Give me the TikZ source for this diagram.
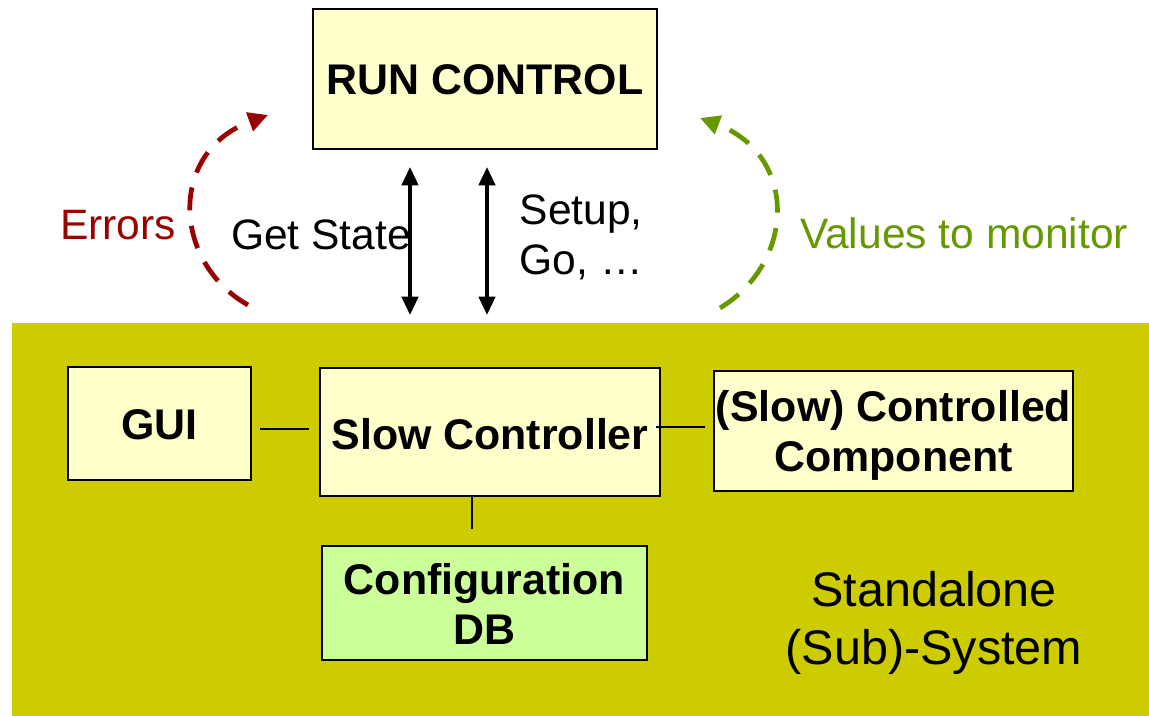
\documentclass[tikz,border=0pt]{standalone}
\usepackage{fontspec}
\setmainfont{Liberation Sans}
\usetikzlibrary{arrows.meta}
\definecolor{olivebg}{RGB}{204,204,0}
\definecolor{paleyellow}{RGB}{255,255,204}
\definecolor{palegreen}{RGB}{204,255,153}
\definecolor{errred}{RGB}{153,0,0}
\definecolor{mongreen}{RGB}{102,153,0}
% taller first line, so that the text sits a little lower in its box
\newcommand{\dropby}[1]{\rule{0pt}{\dimexpr\fontcharht\font`(+#1\relax}}
\tikzset{
  box/.style={draw=black, line width=0.6pt, fill=paleyellow, inner sep=0pt,
    align=center, font=\fontsize{12.2}{14.2}\selectfont\bfseries},
  label/.style={inner sep=0pt, font=\fontsize{12.1}{14.2}\selectfont},
  link/.style={draw=black, line width=0.45pt},
  cmd/.style={line width=1.05pt, {Triangle[length=5.2pt,width=4.6pt]}-{Triangle[length=5.2pt,width=4.6pt]}},
  loop/.style={line width=1.35pt, dash pattern=on 6.6pt off 4.4pt, -{Triangle[length=5.6pt,width=5.4pt]}}
}
\begin{document}
\begin{tikzpicture}[x=0.01cm,y=-0.01cm]
  \useasboundingbox (0,0) rectangle (1149,716);
  % standalone subsystem area
  \fill[olivebg] (12,323) rectangle (1149,716);

  % boxes
  \node[box, minimum width=3.44cm, minimum height=1.40cm] (run) at (485,79) {\dropby{0.6pt}RUN CONTROL};
  \node[box, minimum width=1.83cm, minimum height=1.13cm] (gui) at (159.5,423.5) {\dropby{1.1pt}GUI};
  \node[box, minimum width=3.40cm, minimum height=1.28cm] (sc) at (490,432) {\dropby{1.7pt}Slow Controller};
  \node[box, minimum width=3.59cm, minimum height=1.20cm] (cc) at (893.5,431) {\dropby{2.8pt}(Slow) Controlled\\Component};
  \node[box, fill=palegreen, minimum width=3.25cm, minimum height=1.14cm] (db) at (484.5,603) {\dropby{1.1pt}Configuration\\DB};

  % texts
  \node[label, text=errred] (err) at (118,225) {Errors};
  \node[label] (get) at (321,235) {Get State};
  \node[label, anchor=west, align=left] (setup) at (519,237) {Setup,\\Go, \ldots};
  \node[label, text=mongreen] (mon) at (964,233) {Values to monitor};
  \node[label, font=\fontsize{13.8}{16.4}\selectfont, align=center] (sub) at (934,623) {Standalone\\(Sub)-System};

  % command / state arrows between run control and the subsystem
  \coordinate (a1t) at (410,167);
  \coordinate (a1b) at (410,315);
  \coordinate (a2t) at (487,167);
  \coordinate (a2b) at (487,315);
  \draw[cmd] (a1t) -- (a1b);
  \draw[cmd] (a2t) -- (a2b);

  % errors and monitored values loops
  \coordinate (es) at (248,305);
  \coordinate (ee) at (268,115);
  \coordinate (vs) at (720,308);
  \coordinate (ve) at (700,118);
  \draw[loop, errred] (es) .. controls (172,262) and (168,152) .. (ee);
  \draw[loop, mongreen] (vs) .. controls (796,262) and (798,155) .. (ve);

  % links inside the subsystem
  \draw[link, shorten <=0.08cm, shorten >=0.10cm] ([yshift=-1.5pt]gui.east) -- ([yshift=-1.5pt]gui.east -| sc.west);
  \draw[link, shorten <=-0.05cm, shorten >=0.08cm] ([yshift=1.4pt]sc.east) -- ([yshift=1.4pt]sc.east -| cc.west);
  \draw[link, shorten >=0.16cm] ([xshift=-0.18cm]sc.south) -- ([xshift=-0.18cm]sc.south |- db.north);
\end{tikzpicture}
\end{document}
